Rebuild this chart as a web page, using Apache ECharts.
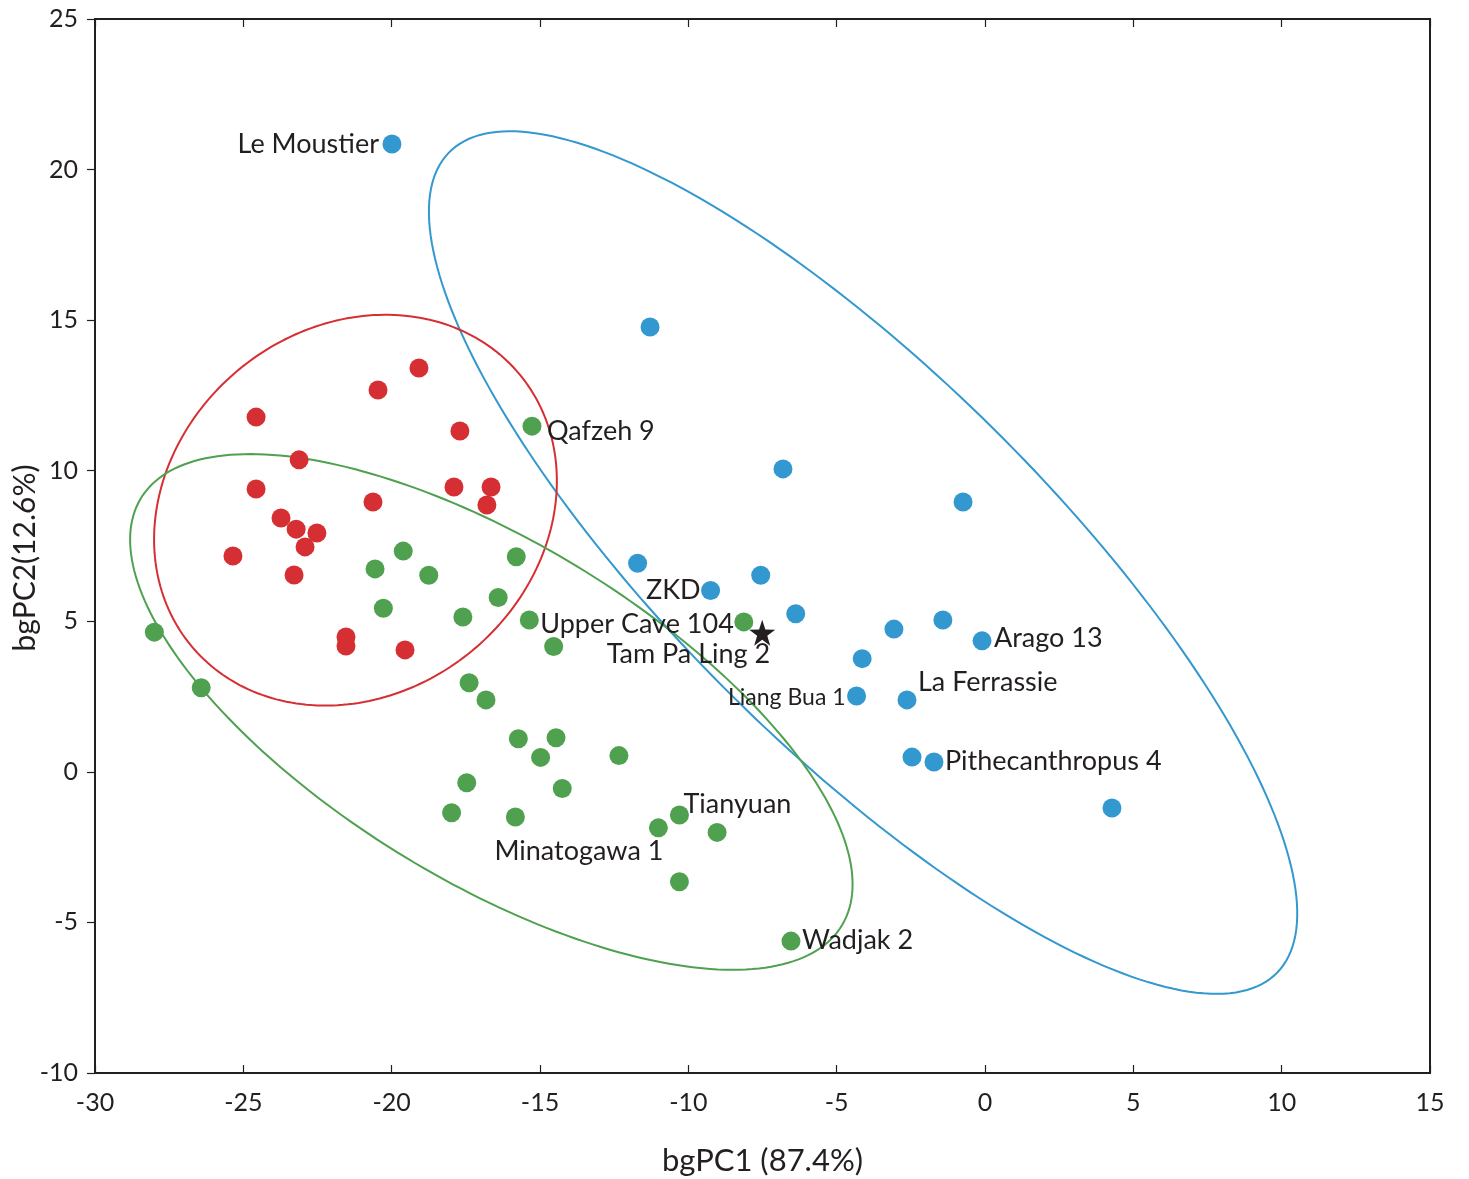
<!DOCTYPE html>
<html>
<head>
<meta charset="utf-8">
<script src="https://cdn.jsdelivr.net/npm/echarts@6/dist/echarts.min.js"></script>
<style>
html,body{margin:0;padding:0;background:#fff;}
#chart{width:1469px;height:1179px;}
</style>
</head>
<body>
<div id="chart"></div>
<script>
// ---- data ----
const xTicks = [-30, -25, -20, -15, -10, -5, 0, 5, 10, 15];
const yTicks = [-10, -5, 0, 5, 10, 15, 20, 25];

const blueX = [-19.99, -11.29, -6.81, -0.74, -11.71, -9.25, -7.56, -6.38, -3.07, -1.42, -0.10, -4.14, -4.33, -2.63, -2.46, -1.72, 4.28];
const blueY = [20.85, 14.77, 10.06, 8.96, 6.93, 6.02, 6.53, 5.25, 4.74, 5.04, 4.35, 3.76, 2.52, 2.39, 0.49, 0.33, -1.20];
const blueNames = ['Le Moustier', '', '', '', '', 'ZKD', '', '', '', '', 'Arago 13', '', 'Liang Bua 1', 'La Ferrassie', '', 'Pithecanthropus 4', ''];

const redX = [-19.08, -20.46, -24.57, -17.70, -23.12, -24.57, -17.90, -16.65, -16.79, -20.63, -23.73, -23.22, -22.52, -22.92, -25.35, -23.29, -21.54, -21.54, -19.55];
const redY = [13.41, 12.68, 11.78, 11.32, 10.36, 9.39, 9.46, 9.46, 8.86, 8.96, 8.43, 8.06, 7.93, 7.47, 7.17, 6.54, 4.48, 4.18, 4.05];

const greenX = [-15.27, -19.61, -20.56, -18.75, -15.80, -16.41, -20.28, -17.60, -15.36, -8.13, -14.54, -28.00, -26.42, -17.39, -16.82, -15.73, -14.46, -14.98, -12.34, -17.47, -14.25, -17.98, -15.83, -10.30, -11.01, -9.03, -10.30, -6.54];
const greenY = [11.48, 7.33, 6.74, 6.53, 7.14, 5.79, 5.43, 5.14, 5.04, 4.98, 4.16, 4.64, 2.79, 2.96, 2.39, 1.10, 1.13, 0.48, 0.54, -0.36, -0.55, -1.36, -1.50, -1.43, -1.86, -2.01, -3.65, -5.62];
const greenNames = ['Qafzeh 9', '', '', '', '', '', '', '', '', 'Upper Cave 104', '', '', '', '', '', '', '', '', '', '', '', '', '', 'Tianyuan', 'Minatogawa 1', '', '', 'Wadjak 2'];

const starX = [-7.51];
const starY = [4.62];
const starNames = ['Tam Pa Ling 2'];

// confidence ellipses: centre, semi-axes (data units), rotation of major axis (degrees)
const ellipseGroups = ['blue', 'red', 'green'];
const ellipseCx = [-4.11, -21.22, -16.64];
const ellipseCy = [6.95, 8.69, 1.99];
const ellipseA = [19.50, 7.14, 13.78];
const ellipseB = [6.25, 6.10, 5.63];
const ellipseAngle = [-44.24, 36.6, -30.86];

// ---- styles ----
const COLORS = { blue: '#3398cf', red: '#d62f33', green: '#4fa150' };
const TEXT = '#231f20';
const FONT = 'Lato';
const DOT = 19;
const STAR = 26;

const labelPlacement = {
  'Le Moustier': { align: 'right', offset: [-13, 0] },
  'ZKD': { align: 'right', offset: [-10, 0] },
  'Arago 13': { align: 'left', offset: [12, -3] },
  'Liang Bua 1': { align: 'right', offset: [-11, 2], fontSize: 23 },
  'La Ferrassie': { align: 'left', offset: [11, -18] },
  'Pithecanthropus 4': { align: 'left', offset: [11, -1] },
  'Qafzeh 9': { align: 'left', offset: [15, 5] },
  'Upper Cave 104': { align: 'right', offset: [-10, 2] },
  'Tianyuan': { align: 'left', offset: [4, -11] },
  'Minatogawa 1': { align: 'right', offset: [5, 23] },
  'Wadjak 2': { align: 'left', offset: [11, -1] },
  'Tam Pa Ling 2': { align: 'right', offset: [8, 22] }
};

function buildPoints(xs, ys, names, size) {
  return xs.map(function (x, i) {
    const name = names ? names[i] : '';
    const item = { value: [x, ys[i]], name: name };
    if (name && labelPlacement[name]) {
      const p = labelPlacement[name];
      item.label = {
        show: true,
        formatter: name,
        position: [size / 2 + p.offset[0], size / 2 + p.offset[1]],
        align: p.align,
        verticalAlign: 'middle',
        fontSize: p.fontSize || 27,
        color: TEXT,
        opacity: 1,
        textBorderWidth: 0,
        fontFamily: FONT
      };
    }
    return item;
  });
}

function ellipseSeries(i) {
  return {
    type: 'custom',
    coordinateSystem: 'cartesian2d',
    silent: true,
    z: 1,
    encode: { x: 0, y: 1 },
    data: [[ellipseCx[i], ellipseCy[i], ellipseA[i], ellipseB[i], ellipseAngle[i]]],
    renderItem: function (params, api) {
      const cx = api.value(0), cy = api.value(1), a = api.value(2), b = api.value(3);
      const ang = api.value(4) * Math.PI / 180;
      const pts = [];
      const n = 240;
      for (let k = 0; k <= n; k++) {
        const t = k / n * 2 * Math.PI;
        const ex = a * Math.cos(t), ey = b * Math.sin(t);
        pts.push(api.coord([cx + ex * Math.cos(ang) - ey * Math.sin(ang), cy + ex * Math.sin(ang) + ey * Math.cos(ang)]));
      }
      return {
        type: 'polygon',
        shape: { points: pts },
        style: { fill: 'none', stroke: COLORS[ellipseGroups[i]], lineWidth: 2 }
      };
    }
  };
}

const axisLabelStyle = { color: TEXT, fontSize: 25, fontFamily: FONT };
const axisLineStyle = { color: TEXT, width: 2 };

const chart = echarts.init(document.getElementById('chart'), null, { renderer: 'canvas' });
chart.setOption({
  backgroundColor: '#ffffff',
  animation: false,
  grid: { left: 95, right: 39, top: 19, bottom: 106, outerBoundsMode: 'none', containLabel: false, show: true, borderColor: TEXT, borderWidth: 2, backgroundColor: 'transparent' },
  xAxis: [{
    type: 'value', min: xTicks[0], max: xTicks[xTicks.length - 1], interval: 5, position: 'bottom',
    name: 'bgPC1 (87.4%)', nameLocation: 'middle', nameGap: 72, nameMoveOverlap: false,
    nameTextStyle: { color: TEXT, fontSize: 31, fontFamily: FONT },
    axisLine: { show: true, onZero: false, lineStyle: axisLineStyle },
    axisTick: { show: true, inside: true, length: 8, lineStyle: { color: TEXT, width: 1.2 } },
    axisLabel: Object.assign({ margin: 17 }, axisLabelStyle),
    splitLine: { show: false }
  }, {
    type: 'value', min: xTicks[0], max: xTicks[xTicks.length - 1], interval: 5, position: 'top',
    axisLine: { show: true, onZero: false, lineStyle: axisLineStyle },
    axisTick: { show: true, inside: true, length: 8, lineStyle: { color: TEXT, width: 1.2 } },
    axisLabel: { show: false },
    splitLine: { show: false }
  }],
  yAxis: [{
    type: 'value', min: yTicks[0], max: yTicks[yTicks.length - 1], interval: 5, position: 'left',
    name: 'bgPC2(12.6%)', nameLocation: 'middle', nameGap: 55, nameRotate: 90, nameMoveOverlap: false,
    nameTextStyle: { color: TEXT, fontSize: 30, fontFamily: FONT, padding: [0, 24, 0, 0] },
    axisLine: { show: true, onZero: false, lineStyle: axisLineStyle },
    axisTick: { show: true, inside: false, length: 8, lineStyle: { color: TEXT, width: 1.2 } },
    axisLabel: Object.assign({ margin: 17 }, axisLabelStyle),
    splitLine: { show: false }
  }],
  series: [
    ellipseSeries(0), ellipseSeries(1), ellipseSeries(2),
    {
      type: 'scatter', name: 'red', symbol: 'circle', symbolSize: DOT, z: 3,
      itemStyle: { color: COLORS.red, opacity: 1 },
      data: buildPoints(redX, redY, null, DOT)
    },
    {
      type: 'scatter', name: 'green', symbol: 'circle', symbolSize: DOT, z: 3,
      itemStyle: { color: COLORS.green, opacity: 1 },
      data: buildPoints(greenX, greenY, greenNames, DOT)
    },
    {
      type: 'scatter', name: 'blue', symbol: 'circle', symbolSize: DOT, z: 3,
      itemStyle: { color: COLORS.blue, opacity: 1 },
      data: buildPoints(blueX, blueY, blueNames, DOT)
    },
    {
      type: 'scatter', name: 'star', z: 4,
      symbol: 'path://M50,0 L61.8,35.3 L98.9,35.6 L69.1,57.7 L80.2,93.1 L50,71.6 L19.8,93.1 L30.9,57.7 L1.1,35.6 L38.2,35.3 Z',
      symbolSize: STAR,
      itemStyle: { color: TEXT, opacity: 1 },
      data: buildPoints(starX, starY, starNames, STAR)
    }
  ]
});
</script>
</body>
</html>
